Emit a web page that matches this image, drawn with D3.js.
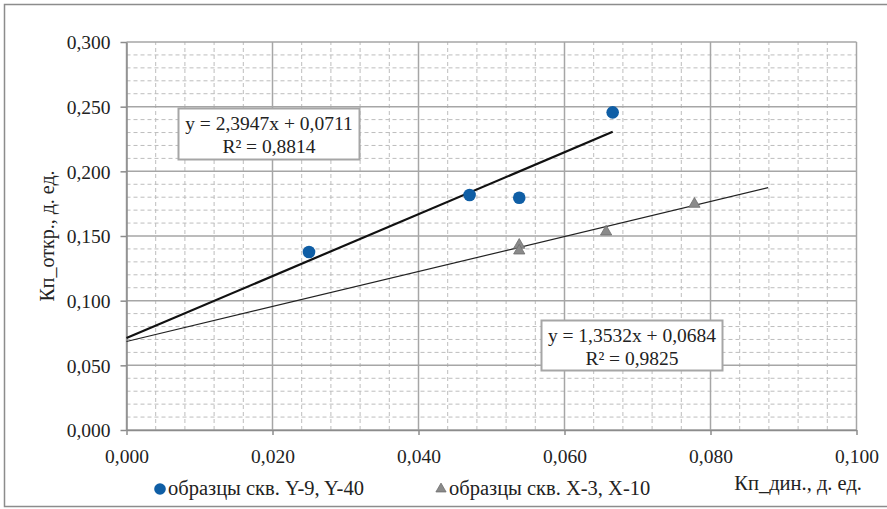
<!DOCTYPE html>
<html>
<head>
<meta charset="utf-8">
<script src="https://cdn.jsdelivr.net/npm/d3@7"></script>
<style>
  body { margin: 0; background: #fff; }
  svg text { font-family: "Liberation Serif", "Times New Roman", serif; fill: #222; }
</style>
</head>
<body>
<svg width="887" height="509"></svg>
<script>
const width = 887, height = 509;

// series 1: образцы скв. Y-9, Y-40
const s1x = [0.0250, 0.0470, 0.0538, 0.0666];
const s1y = [0.1376, 0.1817, 0.1796, 0.2456];
// series 2: образцы скв. X-3, X-10
const s2x = [0.0538, 0.0538, 0.0657, 0.0778];
const s2y = [0.1430, 0.1386, 0.1533, 0.1747];

// trend lines (from the picture's equations)
const trend1 = { a: 2.3947, b: 0.0711, x0: 0, x1: 0.0666, eq: "y = 2,3947x + 0,0711", r2: "R² = 0,8814" };
const trend2 = { a: 1.3532, b: 0.0684, x0: 0, x1: 0.0879, eq: "y = 1,3532x + 0,0684", r2: "R² = 0,9825" };

const xTicks = [0, 0.02, 0.04, 0.06, 0.08, 0.10];
const yTicks = [0, 0.05, 0.10, 0.15, 0.20, 0.25, 0.30];

const fmt = d => d3.format(".3f")(d).replace(".", ",");

const svg = d3.select("svg");

// outer chart border
svg.append("rect")
  .attr("x", 4.5).attr("y", 4.5)
  .attr("width", width + 10).attr("height", 502)
  .attr("fill", "#fff").attr("stroke", "#8c8c8c").attr("stroke-width", 1.5);

const x = d3.scaleLinear().domain([0, 0.1]).range([126.5, 856.5]);
const y = d3.scaleLinear().domain([0, 0.3]).range([430, 42]);

const g = svg.append("g");

// minor grid (dashed)
const xMinor = d3.range(0, 0.1 + 1e-9, 0.004).filter((d, i) => i % 5 !== 0);
const yMinor = d3.range(0, 0.3 + 1e-9, 0.01).filter((d, i) => i % 5 !== 0);
g.selectAll(".xminor").data(xMinor).enter().append("line")
  .attr("x1", d => x(d)).attr("x2", d => x(d))
  .attr("y1", y(0)).attr("y2", y(0.3))
  .attr("stroke", "#bdbdbd").attr("stroke-dasharray", "4,3");
g.selectAll(".yminor").data(yMinor).enter().append("line")
  .attr("x1", x(0)).attr("x2", x(0.1))
  .attr("y1", d => y(d)).attr("y2", d => y(d))
  .attr("stroke", "#bdbdbd").attr("stroke-dasharray", "4,3");

// major grid
g.selectAll(".xmajor").data(xTicks).enter().append("line")
  .attr("x1", d => x(d)).attr("x2", d => x(d))
  .attr("y1", y(0)).attr("y2", y(0.3))
  .attr("stroke", "#a6a6a6").attr("stroke-width", 1.5);
g.selectAll(".ymajor").data(yTicks).enter().append("line")
  .attr("x1", x(0)).attr("x2", x(0.1))
  .attr("y1", d => y(d)).attr("y2", d => y(d))
  .attr("stroke", "#a6a6a6").attr("stroke-width", 1.5);

// axes
const xAxis = svg.append("g").attr("transform", `translate(0,${y(0)})`)
  .call(d3.axisBottom(x).tickValues(xTicks).tickFormat(fmt).tickSizeInner(5).tickSizeOuter(0).tickPadding(10));
const yAxis = svg.append("g").attr("transform", `translate(${x(0)},0)`)
  .call(d3.axisLeft(y).tickValues(yTicks).tickFormat(fmt).tickSizeInner(6).tickSizeOuter(0).tickPadding(10));
[xAxis, yAxis].forEach(a => {
  a.attr("font-family", null);
  a.select(".domain").attr("stroke", "#8c8c8c").attr("stroke-width", 1.5);
  a.selectAll(".tick line").attr("stroke", "#8c8c8c").attr("stroke-width", 1.5);
  a.selectAll("text").attr("font-size", 19.5).attr("fill", "#222")
    .style("font-family", '"Liberation Serif", serif');
});
xAxis.selectAll("text").attr("dy", "0.9em");
yAxis.selectAll("text").attr("dy", "0.35em");

// trend lines
[[trend1, "#111", 2.2], [trend2, "#222", 1.2]].forEach(([t, c, w]) => {
  svg.append("line")
    .attr("x1", x(t.x0)).attr("y1", y(t.a * t.x0 + t.b))
    .attr("x2", x(t.x1)).attr("y2", y(t.a * t.x1 + t.b))
    .attr("stroke", c).attr("stroke-width", w);
});

// points
const pts1 = s1x.map((d, i) => ({ x: d, y: s1y[i] }));
const pts2 = s2x.map((d, i) => ({ x: d, y: s2y[i] }));
const tri = d3.symbol().type(d3.symbolTriangle).size(55);

svg.selectAll(".tri").data(pts2).enter().append("path")
  .attr("d", tri)
  .attr("transform", d => `translate(${x(d.x)},${y(d.y)})`)
  .attr("fill", "#8a8a8a").attr("stroke", "#6e6e6e").attr("stroke-width", 0.8);
svg.selectAll(".dot").data(pts1).enter().append("circle")
  .attr("cx", d => x(d.x)).attr("cy", d => y(d.y)).attr("r", 6.3)
  .attr("fill", "#0f5ea5");

// equation boxes
function eqBox(t, bx, by, bw, bh) {
  const b = svg.append("g");
  b.append("rect").attr("x", bx).attr("y", by).attr("width", bw).attr("height", bh)
    .attr("fill", "#fff").attr("stroke", "#a6a6a6").attr("stroke-width", 2);
  b.append("text").attr("x", bx + bw / 2).attr("y", by + 21)
    .attr("text-anchor", "middle").attr("font-size", 19.5).text(t.eq);
  b.append("text").attr("x", bx + bw / 2).attr("y", by + 44)
    .attr("text-anchor", "middle").attr("font-size", 19.5).text(t.r2);
}
eqBox(trend1, 178.5, 108.5, 181, 51);
eqBox(trend2, 541.5, 320.5, 181, 50);

// axis titles
svg.append("text")
  .attr("transform", `translate(54,${(y(0) + y(0.3)) / 2}) rotate(-90)`)
  .attr("text-anchor", "middle").attr("font-size", 20)
  .text("Кп_откр., д. ед.");
svg.append("text")
  .attr("x", 862).attr("y", 490).attr("text-anchor", "end").attr("font-size", 20.5)
  .text("Кп_дин., д. ед.");

// legend
const leg = svg.append("g");
leg.append("circle").attr("cx", 160).attr("cy", 489).attr("r", 5.8).attr("fill", "#0f5ea5");
leg.append("text").attr("x", 168).attr("y", 495).attr("font-size", 20.5).text("образцы скв. Y-9, Y-40");
leg.append("path").attr("d", d3.symbol().type(d3.symbolTriangle).size(45))
  .attr("transform", "translate(441,489)")
  .attr("fill", "#8a8a8a").attr("stroke", "#6e6e6e").attr("stroke-width", 0.8);
leg.append("text").attr("x", 449).attr("y", 495).attr("font-size", 20.5).text("образцы скв. X-3, X-10");
</script>
</body>
</html>
